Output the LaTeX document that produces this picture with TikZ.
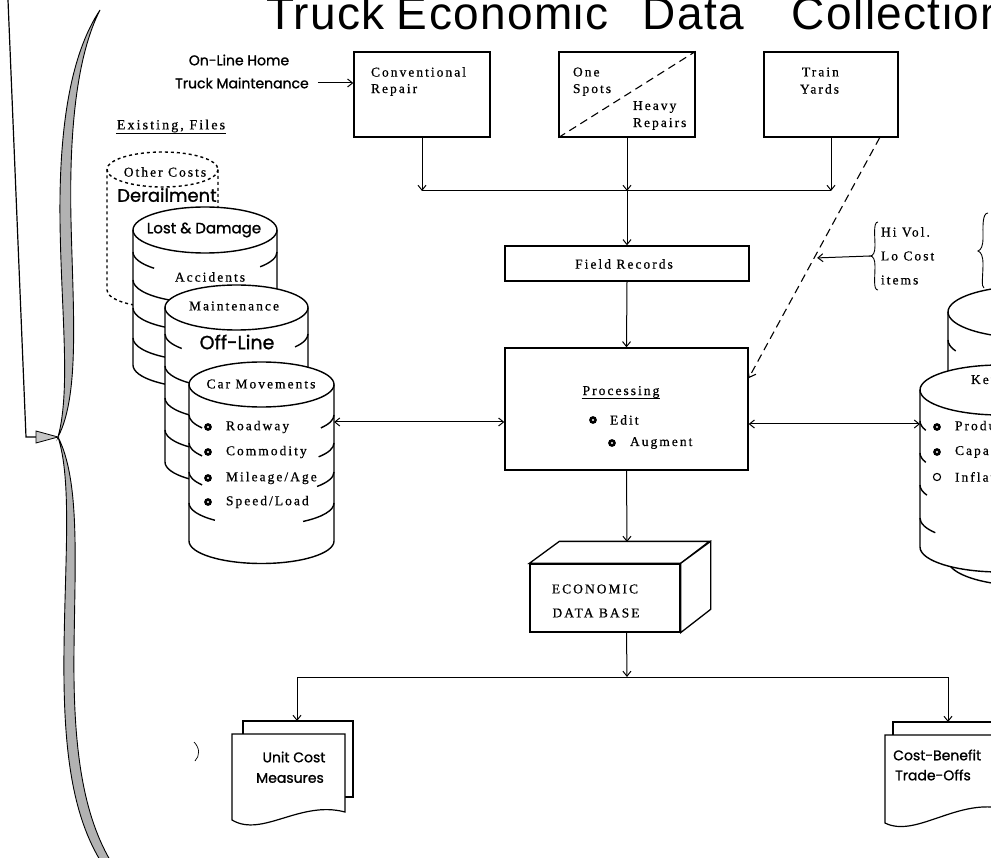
\documentclass[tikz,border=0pt]{standalone}
\usepackage{fontspec}
\setmainfont{Liberation Serif}
\newfontfamily\tw[LetterSpace=15,FakeBold=0.6]{Liberation Serif}
\newfontfamily\lr[FakeBold=1.2]{Poppins}
\newfontfamily\ttl[LetterSpace=3]{Liberation Sans}
\usetikzlibrary{arrows.meta,calc}
\newcommand\drum[6]{%
  \fill[white] (#2-#4,#3) -- (#2-#4,#6) arc[start angle=180,end angle=0,x radius=#4,y radius=#5] -- (#2+#4,#3) arc[start angle=0,end angle=-180,x radius=#4,y radius=#5] -- cycle;
  \draw[#1] (#2-#4,#3) -- (#2-#4,#6) arc[start angle=180,end angle=0,x radius=#4,y radius=#5] -- (#2+#4,#3);
  \draw[#1] (#2,#3) ellipse[x radius=#4,y radius=#5];}
\newcommand\lshelf[5]{\draw[cyl] (#1-#3,#2) arc[start angle=180,end angle={180-#5},x radius=#3,y radius=#4];}
\newcommand\rshelf[5]{\draw[cyl] ({#1+#3*cos(#5)},{#2+#4*sin(#5)}) arc[start angle=#5,end angle=0,x radius=#3,y radius=#4];}
\newcommand\bul[1]{\fill (#1) circle[radius=3.9]; \fill[white] (#1) circle[radius=1.2];}
\begin{document}
\begin{tikzpicture}[x=1pt,y=-1pt,
  box/.style={draw, line width=1.3pt, fill=white, inner sep=0pt},
  cyl/.style={line width=1.4pt},
  ar/.style={-{Straight Barb[length=5pt,width=8pt]}, line width=1pt},
  dar/.style={{Straight Barb[length=5pt,width=8pt]}-{Straight Barb[length=5pt,width=8pt]}, line width=1pt},
  conn/.style={line width=1pt},
  tw/.style={font=\tw\fontsize{13.5}{15}\selectfont, inner sep=0.8pt},
  lr/.style={font=\lr\fontsize{14}{16}\selectfont, inner sep=0pt},
  dline/.style={dash pattern=on 8pt off 5pt, line width=1.1pt},
  doc/.style={line width=1.2pt, fill=white}]
\useasboundingbox (0,0) rectangle (991,858);
\clip (0,0) rectangle (991,858);
\fill[white] (0,0) rectangle (991,858);

% title
\node[anchor=base west, inner sep=0pt, font=\ttl\fontsize{46}{46}\selectfont] (title) at (266,30) {Truck\hspace{12pt}Economic\hspace{34pt}Data\hspace{48pt}Collection};

% left line and brace
\coordinate (lt) at (8,0);
\coordinate (lc) at (26,437);
\coordinate (tip) at (58,437);
\draw[line width=1.2pt] (lt) -- (lc) -- (37,437);
\draw[line width=0.8pt, fill=gray!45] (36,431) -- (tip) -- (36,443) -- cycle;
\draw[line width=0.9pt, fill=gray!60] (100,10) .. controls (77,55) and (69,130) .. (71,220) .. controls (73,310) and (80,395) .. (tip) .. controls (71,390) and (61,310) .. (60,220) .. controls (59,130) and (70,55) .. (100,10) -- cycle;
\draw[line width=0.9pt, fill=gray!60] (tip) .. controls (80,480) and (75,560) .. (74,650) .. controls (73,740) and (81,810) .. (110,860) -- (100,860) .. controls (70,810) and (63,740) .. (64,650) .. controls (65,560) and (72,480) .. (tip) -- cycle;

% top labels
\node[lr] (olh) at (239,60) {On-Line Home};
\node[lr] (tm) at (242,83) {Truck Maintenance};
\node[tw, font=\tw\fontsize{14}{16}\selectfont] (ef) at (171,126) {Existing, Files};
\draw[line width=0.9pt] (ef.south west) -- (ef.south east);

% top boxes
\node[box, minimum width=136, minimum height=85] (conv) at (422,94.5) {};
\node[box, minimum width=136, minimum height=85] (spot) at (627,94.5) {};
\node[box, minimum width=134, minimum height=85] (yard) at (831,94.5) {};
\draw[dline] (spot.south west) -- (spot.north east);
\node[tw, anchor=west] (c1) at (370,72) {Conventional};
\node[tw, anchor=west] (c2) at (370,90) {Repair};
\node[tw, anchor=west] (s1) at (572,72) {One};
\node[tw, anchor=west] (s2) at (572,90) {Spots};
\node[tw, anchor=west] (h1) at (632,107) {Heavy};
\node[tw, anchor=west] (h2) at (632,124) {Repairs};
\node[tw, anchor=west] (y1) at (801,72) {Train};
\node[tw, anchor=west] (y2) at (799,89) {Yards};
\draw[ar] ([xshift=9pt]tm.east) -- (conv.west |- tm.east);

% junction
\coordinate (j1) at (627,191);
\draw[conn] (conv.south |- j1) -- (yard.south |- j1);
\draw[ar] (conv.south) -- (conv.south |- j1);
\draw[ar] (spot.south) -- (j1);
\draw[ar] (yard.south) -- (yard.south |- j1);

\node[box, minimum width=244, minimum height=35] (fr) at (627,263.5) {};
\node[tw] (frt) at (624,264) {Field Records};
\draw[ar] (j1) -- (fr.north);

\node[box, minimum width=243, minimum height=122] (proc) at (626.5,409) {};
\node[tw] (pt) at (621,392) {Processing};
\draw[line width=0.9pt] (pt.south west) -- (pt.south east);
\bul{593,420}
\node[tw, anchor=west] (pe) at (609,420) {Edit};
\bul{612,443}
\node[tw, anchor=west] (pa) at (629,443) {Augment};
\draw[ar] (fr.south) -- (proc.north);

% dashed line from train yards
\coordinate (dstart) at ($(yard.south west)!0.86!(yard.south east)$);
\coordinate (dend) at ($(proc.north east)!0.25!(proc.south east)$);
\draw[dline, -{Straight Barb[length=6pt,width=9pt]}] (dstart) -- (dend);
\coordinate (dmid) at ($(dstart)!0.5!(dend)$);
\coordinate (hvtip) at (870,256);
\draw[line width=0.9pt] (878,222) .. controls (873,222) and (875,236) .. (875,246) .. controls (875,253) and (873,256) .. (hvtip) .. controls (873,256) and (875,259) .. (875,266) .. controls (875,278) and (873,290) .. (878,290);
\draw[ar] (hvtip) -- ([xshift=3pt]dmid);
\node[tw, anchor=west] (hv1) at (880,232) {Hi Vol.};
\node[tw, anchor=west] (hv2) at (880,256) {Lo Cost};
\node[tw, anchor=west] (hv3) at (880,280) {items};

% left cylinders
\drum{cyl, dashed}{162.5}{169.5}{55.5}{17.5}{290}
\node[tw] (oc) at (165,172) {Other Costs};
\node[lr, font=\lr\fontsize{18}{20}\selectfont] (der) at (167,195) {Derailment};

\drum{cyl}{205}{230}{72}{23}{365}
\lshelf{205}{252}{72}{23}{45}
\rshelf{205}{252}{72}{23}{40}
\lshelf{205}{280}{72}{23}{60}
\lshelf{205}{308}{72}{23}{60}
\lshelf{205}{338}{72}{23}{60}
\node[lr, font=\lr\fontsize{15}{17}\selectfont] (ld) at (204,230) {Lost \& Damage};
\node[tw] (acc) at (210,277) {Accidents};

\drum{cyl}{236.5}{307.5}{71.5}{22.5}{462}
\lshelf{236.5}{334}{71.5}{22.5}{40}
\rshelf{236.5}{334}{71.5}{22.5}{35}
\lshelf{236.5}{366}{71.5}{22.5}{60}
\lshelf{236.5}{398}{71.5}{22.5}{60}
\lshelf{236.5}{430}{71.5}{22.5}{60}
\node[tw] (mt) at (234,306) {Maintenance};
\node[lr, font=\lr\fontsize{19}{21}\selectfont] (ofl) at (237,342) {Off-Line};

\drum{cyl}{261.5}{384.5}{72.5}{22.5}{541}
\lshelf{261.5}{415}{72.5}{22.5}{35}
\rshelf{261.5}{415}{72.5}{22.5}{35}
\lshelf{261.5}{443}{72.5}{22.5}{35}
\rshelf{261.5}{443}{72.5}{22.5}{38}
\lshelf{261.5}{472}{72.5}{22.5}{35}
\rshelf{261.5}{472}{72.5}{22.5}{40}
\lshelf{261.5}{503}{72.5}{22.5}{50}
\rshelf{261.5}{503}{72.5}{22.5}{55}
\node[tw] (cm) at (261,384) {Car Movements};
\bul{208,427}
\node[tw, anchor=west] (r1) at (225,427) {Roadway};
\bul{208,452}
\node[tw, anchor=west] (r2) at (225,452) {Commodity};
\bul{208,478}
\node[tw, anchor=west] (r3) at (225,478) {Mileage/Age};
\bul{208,502}
\node[tw, anchor=west] (r4) at (225,502) {Speed/Load};

\coordinate (carE) at (334,422);
\draw[dar] (carE) -- (proc.west |- carE);

% right cylinders
\drum{cyl}{1030}{312}{82}{26}{560}
\lshelf{1030}{340}{82}{26}{25}
\draw[line width=0.9pt] (988,213) .. controls (982,213) and (983,228) .. (983,238) .. controls (983,246) and (981,250) .. (978,251) .. controls (981,252) and (983,256) .. (983,264) .. controls (983,276) and (981,287) .. (984,288);
\drum{cyl}{1000}{390}{80}{25}{547}
\lshelf{1000}{421}{80}{25}{22}
\lshelf{1000}{453}{80}{25}{22}
\lshelf{1000}{485}{80}{25}{24}
\lshelf{1000}{518}{80}{25}{36}
\node[tw, anchor=west] (kf) at (970,381) {Key};
\bul{937,427}
\node[tw, anchor=west] (p1) at (954,427) {Productivity};
\bul{937,452}
\node[tw, anchor=west] (p2) at (954,452) {Capacity};
\draw[line width=1.1pt] (937,477) circle[radius=3.6];
\node[tw, anchor=west] (p3) at (954,477) {Inflation};

\coordinate (rcW) at (920,424);
\draw[dar] (proc.east |- rcW) -- (rcW);

% economic data base
\node[box, minimum width=150, minimum height=68] (edb) at (605,598) {};
\draw[line width=1.3pt, fill=white] (edb.north west) -- ++(30,-22) -- ++(150,0) -- (edb.north east) -- cycle;
\draw[line width=1.3pt, fill=white] (edb.north east) -- ++(30,-22) -- ++(0,68) -- (edb.south east) -- cycle;
\node[tw] (e1) at (595,589) {ECONOMIC};
\node[tw] (e2) at (596,613) {DATA BASE};
\coordinate (edbtop) at (627,542);
\draw[ar] (proc.south) -- (edbtop);

\coordinate (j2) at (627,677);
\draw[ar] (edb.south -| proc.south) -- (j2);
\coordinate (ucT) at (297,721);
\coordinate (cbT) at (948,722);
\draw[conn] (ucT |- j2) -- (cbT |- j2);
\draw[ar] (ucT |- j2) -- (ucT);
\draw[ar] (cbT |- j2) -- (cbT);

% documents
\draw[doc] (243,721) rectangle (353,797);
\draw[doc] (232,734) -- (345,734) -- (345,812) .. controls (300,800) and (262,838) .. (232,820) -- cycle;
\node[lr] (u1) at (294,757) {Unit Cost};
\node[lr] (u2) at (290,778) {Measures};
\draw[line width=0.7pt] (194,742) .. controls (200,748) and (200,756) .. (195,761);

\draw[doc] (893,722) rectangle (1010,800);
\draw[doc] (885,735) -- (1000,735) -- (1000,808) .. controls (955,800) and (915,838) .. (885,823) -- cycle;
\node[lr, anchor=west] (cb1) at (893,755) {Cost-Benefit};
\node[lr, anchor=west] (cb2) at (895,775) {Trade-Offs};
\end{tikzpicture}
\end{document}
